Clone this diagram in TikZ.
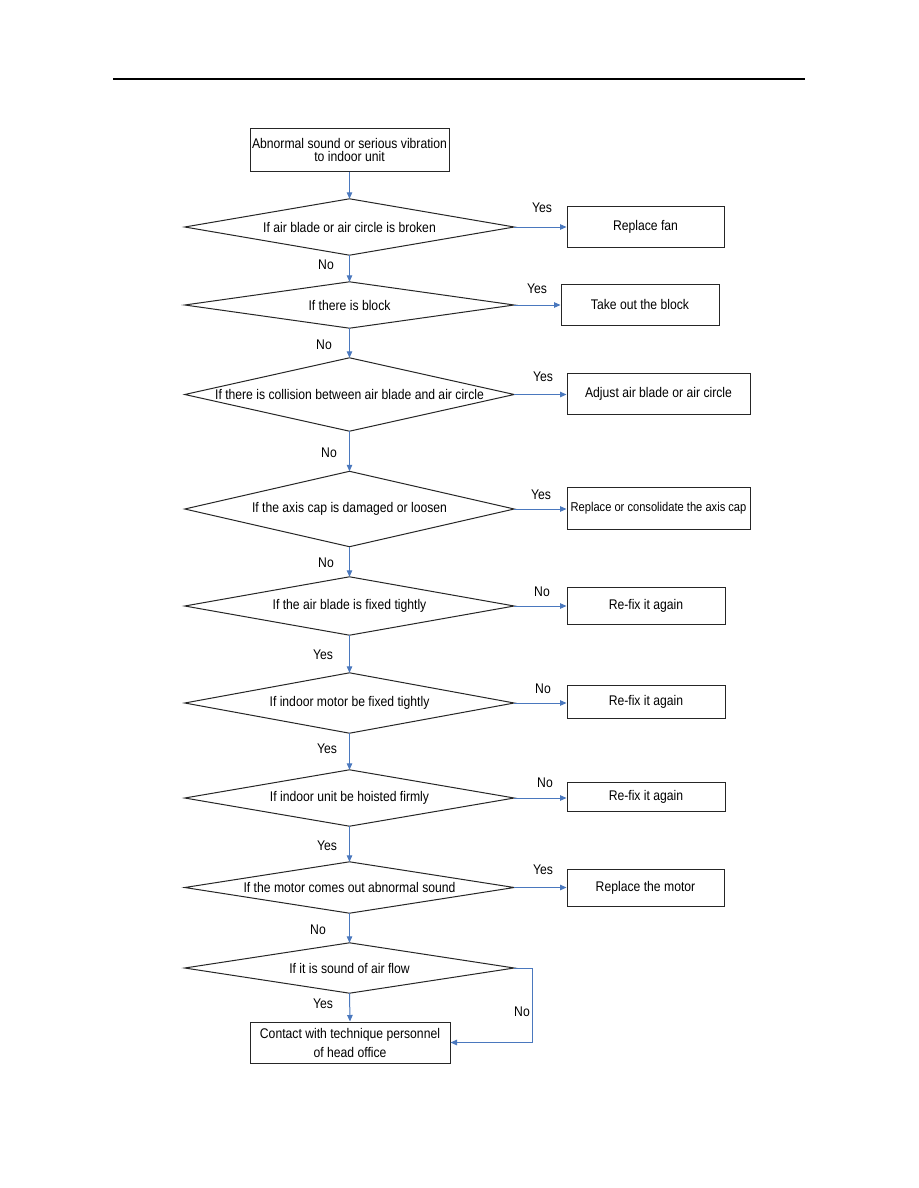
\documentclass[tikz,border=0pt]{standalone}
\usepackage{fontspec}
\setmainfont[FakeStretch=0.87]{Liberation Sans}
\usetikzlibrary{arrows.meta,calc}
\definecolor{arrowblue}{HTML}{4A78BE}
\definecolor{edge}{HTML}{262626}
\begin{document}
\begin{tikzpicture}[x=1pt,y=-1pt,
  font=\fontsize{14}{13.5}\selectfont,
  box/.style={draw=edge, line width=1pt, rectangle, inner sep=0pt, align=center},
  dec/.style={rectangle, inner sep=0pt, minimum width=329pt},
  decline/.style={draw=edge, line width=1pt, line join=miter},
  arr/.style={draw=arrowblue, line width=1pt, -{Triangle[length=6.5pt,width=5.5pt]}},
  lbl/.style={inner sep=0pt}
]
\useasboundingbox (0,0) rectangle (918,1188);
\fill[white] (0,0) rectangle (918,1188);
% header rule
\coordinate (hl) at (113,79);
\coordinate (hr) at (805,79);
\draw[line width=1.4pt] (hl) -- (hr);

% main column
\node[box, minimum width=199pt, minimum height=42pt] (start) at (349.5,150)
  {Abnormal sound or serious vibration\\to indoor unit};
\node[dec, minimum height=56pt] (d1) at (349.5,227) {If air blade or air circle is broken};
\node[dec, minimum height=46pt] (d2) at (349.5,305) {If there is block};
\node[dec, minimum height=73pt] (d3) at (349.5,394.5) {If there is collision between air blade and air circle};
\node[dec, minimum height=75pt] (d4) at (349.5,509) {If the axis cap is damaged or loosen};
\node[dec, minimum height=58pt] (d5) at (349.5,606) {If the air blade is fixed tightly};
\node[dec, minimum height=60pt] (d6) at (349.5,703) {If indoor motor be fixed tightly};
\node[dec, minimum height=56pt] (d7) at (349.5,798) {If indoor unit be hoisted firmly};
\node[dec, minimum height=51pt] (d8) at (349.5,887.5) {If the motor comes out abnormal sound};
\node[dec, minimum height=50pt] (d9) at (349.5,968) {If it is sound of air flow};
\foreach \d in {d1,d2,d3,d4,d5,d6,d7,d8,d9}
  \draw[decline] (\d.north) -- (\d.east) -- (\d.south) -- (\d.west) -- cycle;
\node[box, minimum width=200pt, minimum height=41pt, font=\fontsize{14}{19}\selectfont] (end) at (350,1042.5)
  {Contact with technique personnel\\of head office};

% right column
\node[box, minimum width=157pt, minimum height=41pt] (r1) at (645.5,226.5) {Replace fan};
\node[box, minimum width=158pt, minimum height=41pt] (r2) at (640,304.5) {Take out the block};
\node[box, minimum width=183pt, minimum height=41pt] (r3) at (658.5,393.5) {Adjust air blade or air circle};
\node[box, minimum width=183pt, minimum height=42pt, font=\fontsize{12.8}{13}\selectfont] (r4) at (658.5,508) {Replace or consolidate the axis cap};
\node[box, minimum width=158pt, minimum height=37pt] (r5) at (646,605.5) {Re-fix it again};
\node[box, minimum width=158pt, minimum height=33pt] (r6) at (646,701.5) {Re-fix it again};
\node[box, minimum width=158pt, minimum height=29pt] (r7) at (646,796.5) {Re-fix it again};
\node[box, minimum width=157pt, minimum height=37pt] (r8) at (645.5,887.5) {Replace the motor};

% vertical connectors
\draw[arr] (start.south) -- (d1.north);
\draw[arr] (d1.south) -- (d2.north);
\draw[arr] (d2.south) -- (d3.north);
\draw[arr] (d3.south) -- (d4.north);
\draw[arr] (d4.south) -- (d5.north);
\draw[arr] (d5.south) -- (d6.north);
\draw[arr] (d6.south) -- (d7.north);
\draw[arr] (d7.south) -- (d8.north);
\draw[arr] (d8.south) -- (d9.north);
\draw[arr] (d9.south) -- (end.north);

% horizontal connectors
\draw[arr] (d1.east) -- (d1.east -| r1.west);
\draw[arr] (d2.east) -- (d2.east -| r2.west);
\draw[arr] (d3.east) -- (d3.east -| r3.west);
\draw[arr] (d4.east) -- (d4.east -| r4.west);
\draw[arr] (d5.east) -- (d5.east -| r5.west);
\draw[arr] (d6.east) -- (d6.east -| r6.west);
\draw[arr] (d7.east) -- (d7.east -| r7.west);
\draw[arr] (d8.east) -- (d8.east -| r8.west);
\coordinate (nc) at (532,968);
\draw[arr] (d9.east) -- (d9.east -| nc) |- (end.east);

% labels
\node[lbl] (l1) at (542,208) {Yes};
\node[lbl] (l2) at (537,289) {Yes};
\node[lbl] (l3) at (543,377) {Yes};
\node[lbl] (l4) at (541,495) {Yes};
\node[lbl] (l5) at (542,592) {No};
\node[lbl] (l6) at (543,689) {No};
\node[lbl] (l7) at (545,783) {No};
\node[lbl] (l8) at (543,870) {Yes};
\node[lbl] (v1) at (326,265) {No};
\node[lbl] (v2) at (324,345) {No};
\node[lbl] (v3) at (329,453) {No};
\node[lbl] (v4) at (326,563) {No};
\node[lbl] (v5) at (323,655) {Yes};
\node[lbl] (v6) at (327,749) {Yes};
\node[lbl] (v7) at (327,846) {Yes};
\node[lbl] (v8) at (318,930) {No};
\node[lbl] (v9) at (323,1004) {Yes};
\node[lbl] (v10) at (522,1012) {No};
\end{tikzpicture}
\end{document}
